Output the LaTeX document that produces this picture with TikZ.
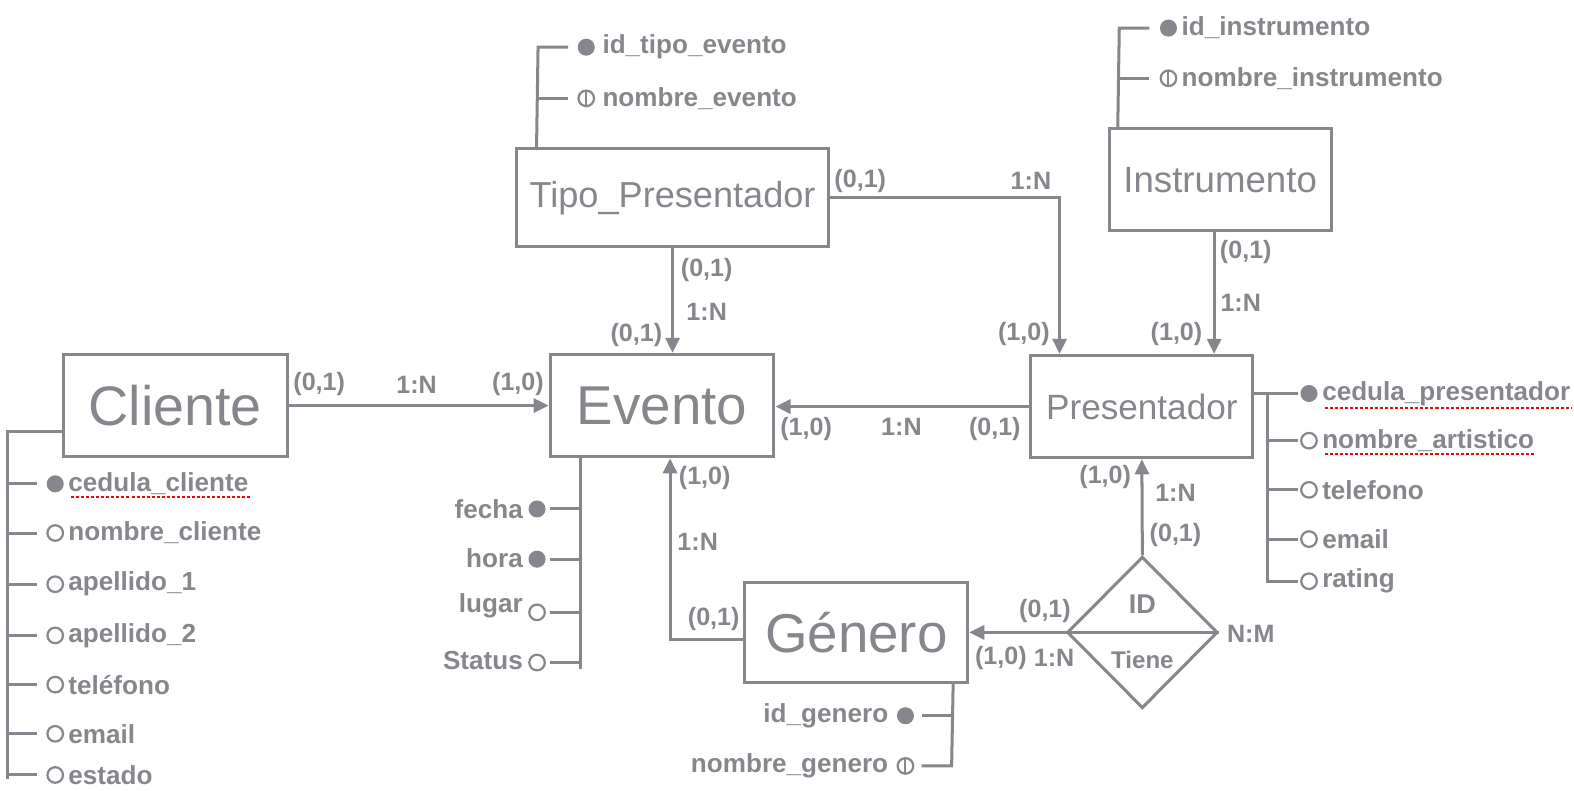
\documentclass[tikz,border=0pt]{standalone}
\usepackage{fontspec}
\setmainfont{Liberation Sans}
\usetikzlibrary{arrows.meta,shapes.geometric}
\definecolor{ergray}{RGB}{134,135,140}

\tikzset{
  entity/.style={draw, line width=3pt, inner sep=0pt},
  conn/.style={line width=3pt, -{Triangle[length=15pt,width=14pt]}},
  spine/.style={line width=3pt},
  lbl/.style={font=\fontsize{25}{28}\selectfont\bfseries, inner sep=0pt},
  att/.style={font=\fontsize{26}{30}\selectfont\bfseries, inner sep=1pt},
  keydot/.style={circle, fill, inner sep=0pt, minimum size=17pt},
  optdot/.style={circle, draw, line width=2.2pt, inner sep=0pt, minimum size=15.5pt},
  altdot/.style={optdot, path picture={\draw[line width=2pt] (path picture bounding box.north) -- (path picture bounding box.south);}},
  spell/.style={red, dashed, dash pattern=on 3pt off 2pt, line width=2pt}
}

\begin{document}
\begin{tikzpicture}[x=1pt, y=-1pt, color=ergray]
  \useasboundingbox (0,0) rectangle (1568,787);

  % Draw the entities
  \node[entity, minimum width=223pt, minimum height=102pt, font=\fontsize{55.5}{60}\selectfont] (cliente) at (174.5,404) {Cliente};
  \node[entity, minimum width=223pt, minimum height=102pt, font=\fontsize{54.5}{60}\selectfont] (evento) at (659.5,404) {Evento};
  \node[entity, minimum width=310pt, minimum height=98pt, font=\fontsize{36}{40}\selectfont] (tipo) at (670,197) {Tipo\_Presentador};
  \node[entity, minimum width=221pt, minimum height=102pt, font=\fontsize{36.5}{40}\selectfont] (instr) at (1215.5,179) {Instrumento};
  \node[entity, minimum width=221pt, minimum height=102pt, font=\fontsize{35}{40}\selectfont] (pres) at (1137.5,405) {Presentador};
  \node[entity, minimum width=222pt, minimum height=100pt, font=\fontsize{54.5}{60}\selectfont] (genero) at (853,630) {Género};

  % Draw the relationship
  \node[entity, diamond, minimum width=150pt, minimum height=151pt] (tiene) at (1138,630) {};
  \draw[spine] (tiene.west) -- (tiene.east);
  \node[font=\fontsize{27}{30}\selectfont\bfseries] (tid) at (1138,602) {ID};
  \node[font=\fontsize{24}{28}\selectfont\bfseries] (tname) at (1138,657) {Tiene};

  % Draw the connectors
  \draw[conn] (cliente.east) -- (evento.west);
  \draw[conn] (tipo.south) -- (tipo.south |- evento.north);
  \draw[conn] (tipo.east) -| ([xshift=30pt]pres.north west);
  \draw[conn] ([xshift=-6pt]instr.south) -- ([xshift=-6pt]instr.south |- pres.north);
  \draw[conn] (pres.west) -- (pres.west -| evento.east);
  \draw[conn] (tiene.north) -- (pres.south);
  \draw[conn] (tiene.west) -- (genero.east);
  \draw[conn] ([yshift=-7pt]genero.west) -| ([xshift=8pt]evento.south);

  % Cardinality labels
  \node[lbl] (l1) at (318,383) {(0,1)};
  \node[lbl] (l2) at (415,383) {1:N};
  \node[lbl] (l3) at (516,383) {(1,0)};
  \node[lbl] (l4) at (704,269) {(0,1)};
  \node[lbl] (l5) at (704,311) {1:N};
  \node[lbl] (l6) at (634,334) {(0,1)};
  \node[lbl] (l7) at (857,180) {(0,1)};
  \node[lbl] (l8) at (1027,180) {1:N};
  \node[lbl] (l9) at (1020,333) {(1,0)};
  \node[lbl] (l10) at (1241,251) {(0,1)};
  \node[lbl] (l11) at (1236,302) {1:N};
  \node[lbl] (l12) at (1172,333) {(1,0)};
  \node[lbl] (l13) at (803,427) {(1,0)};
  \node[lbl] (l14) at (898,425) {1:N};
  \node[lbl] (l15) at (991,427) {(0,1)};
  \node[lbl] (l16) at (1101,475) {(1,0)};
  \node[lbl] (l17) at (1171,491) {1:N};
  \node[lbl] (l18) at (1171,533) {(0,1)};
  \node[lbl] (l19) at (1041,609) {(0,1)};
  \node[lbl] (l20) at (997,655) {(1,0)};
  \node[lbl] (l21) at (1050,655) {1:N};
  \node[lbl] (l22) at (1246,631) {N:M};
  \node[lbl] (l23) at (702,476) {(1,0)};
  \node[lbl] (l24) at (695,540) {1:N};
  \node[lbl] (l25) at (711,617) {(0,1)};

  % Attributes of Cliente
  \draw[spine] ([yshift=-26pt]cliente.west) -- (7,430) -- (7,776);
  \foreach \y/\n/\k/\t in {482/a/keydot/cedula\_cliente, 531/b/optdot/nombre\_cliente,
      582/c/optdot/apellido\_1, 633/d/optdot/apellido\_2, 682/e/optdot/teléfono,
      731/f/optdot/email, 772/g/optdot/estado} {
    \draw[spine] (7,\y) -- (37,\y);
    \node[\k] (cm\n) at (55,\y) {};
    \node[att, anchor=west] (ct\n) at (67,\y) {\t};
  }

  % Attributes of Evento
  \draw[spine] ([xshift=32pt]evento.south west) -- ++(0,210);
  \foreach \y/\ty/\n/\k/\t in {507/507/a/keydot/fecha, 557/556/b/keydot/hora,
      610/603/c/optdot/lugar, 660/658/d/optdot/Status} {
    \draw[spine] (548,\y) -- (580,\y);
    \node[\k] (em\n) at (535,\y) {};
    \node[att, anchor=east] (et\n) at (522,\ty) {\t};
  }

  % Attributes of Tipo_Presentador
  \draw[spine] ([xshift=21pt]tipo.north west) -- (536,47) -- (566,47);
  \draw[spine] (536,98) -- (566,98);
  \node[keydot] (tma) at (584,47) {};
  \node[altdot] (tmb) at (584,98) {};
  \node[att, anchor=west] (tta) at (599,47) {id\_tipo\_evento};
  \node[att, anchor=west] (ttb) at (599,98) {nombre\_evento};

  % Attributes of Instrumento
  \draw[spine] ([xshift=10pt]instr.north west) -- (1115,28) -- (1145,28);
  \draw[spine] (1115,78) -- (1145,78);
  \node[keydot] (ima) at (1164,28) {};
  \node[altdot] (imb) at (1164,78) {};
  \node[att, anchor=west] (ita) at (1176,28) {id\_instrumento};
  \node[att, anchor=west] (itb) at (1176,78) {nombre\_instrumento};

  % Attributes of Presentador
  \draw[spine] ([yshift=13pt]pres.east) -- (1293,392);
  \draw[spine] (1263,392) -- (1263,579) -- (1293,579);
  \foreach \y in {439,488,537} {
    \draw[spine] (1263,\y) -- (1293,\y);
  }
  \node[keydot] (pma) at (1304,392) {};
  \node[optdot] (pmb) at (1304,439) {};
  \node[optdot] (pmc) at (1304,488) {};
  \node[optdot] (pmd) at (1304,537) {};
  \node[optdot] (pme) at (1304,579) {};
  \node[att, anchor=west] (pta) at (1316,392) {cedula\_presentador};
  \node[att, anchor=west] (ptb) at (1316,439) {nombre\_artistico};
  \node[att, anchor=west] (ptc) at (1316,488) {telefono};
  \node[att, anchor=west] (ptd) at (1316,537) {email};
  \node[att, anchor=west] (pte) at (1316,579) {rating};

  % Attributes of Genero
  \draw[spine] ([xshift=-16pt]genero.south east) -- (948,763) -- (918,763);
  \draw[spine] (948,713) -- (918,713);
  \node[keydot] (gma) at (902,713) {};
  \node[altdot] (gmb) at (902,763) {};
  \node[att, anchor=east] (gta) at (886,713) {id\_genero};
  \node[att, anchor=east] (gtb) at (886,763) {nombre\_genero};

  % Spell check marks
  \draw[spell] ([shift={(4,1)}]cta.south west) -- ([shift={(0,1)}]cta.south east);
  \draw[spell] ([shift={(4,1)}]pta.south west) -- ([shift={(0,1)}]pta.south east);
  \draw[spell] ([shift={(4,1)}]ptb.south west) -- ([shift={(0,1)}]ptb.south east);
\end{tikzpicture}
\end{document}
